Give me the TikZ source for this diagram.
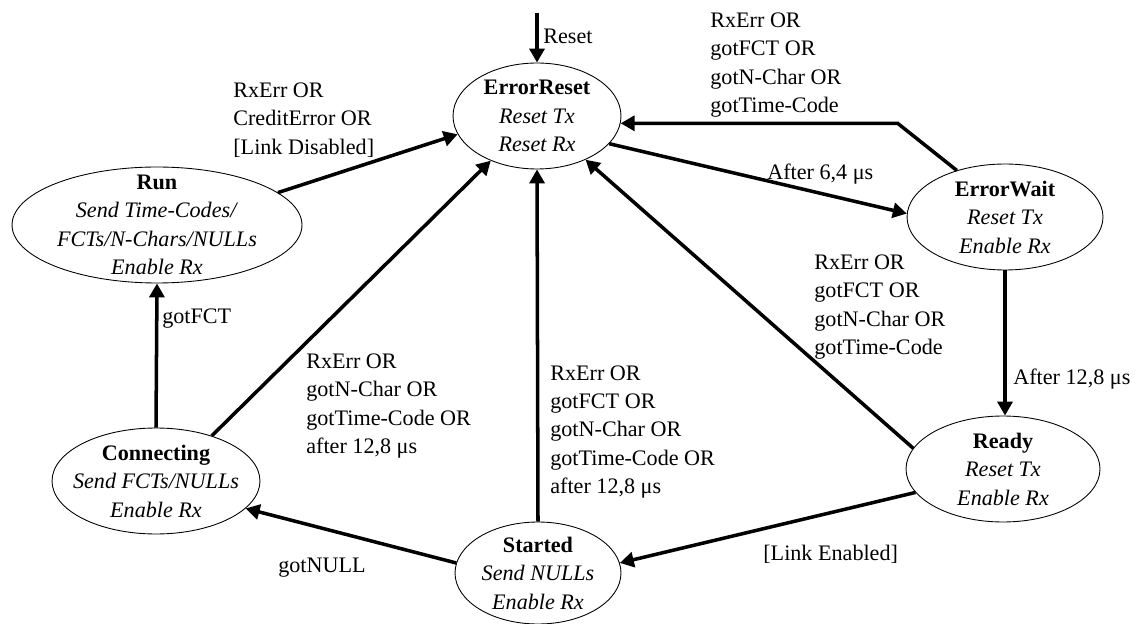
\documentclass[tikz,border=0pt]{standalone}
\usepackage{fontspec}
\setmainfont{Liberation Serif}
\usetikzlibrary{arrows.meta,shapes.geometric,calc}

\tikzset{
  state/.style={ellipse, draw, line width=0.5pt, inner sep=-1cm, align=center},
  trans/.style={line width=2pt, -{Triangle[length=0.28cm,width=0.3cm]}},
  cond/.style={anchor=west, align=left, inner sep=0pt},
}

\begin{document}
\begin{tikzpicture}[x=0.02cm, y=-0.02cm,
  every node/.append style={font=\fontsize{12.6}{16.2}\selectfont}]
			%%%%% START %%%%%
			\useasboundingbox (0,0) rectangle (1138,624);
			
			\node[state, minimum width=3.36cm, minimum height=2.12cm] (err) at (537,116) {\textbf{ErrorReset}\\\textit{Reset Tx}\\\textit{Reset Rx}};
			\node[state, minimum width=5.8cm, minimum height=2.32cm] (run) at (157,225) {\textbf{Run}\\\textit{Send Time-Codes/}\\\textit{FCTs/N-Chars/NULLs}\\\textit{Enable Rx}};
			\node[state, minimum width=3.92cm, minimum height=2.12cm] (ew) at (1005,217) {\textbf{ErrorWait}\\\textit{Reset Tx}\\\textit{Enable Rx}};
			\node[state, minimum width=3.88cm, minimum height=2.12cm] (ready) at (1003,469) {\textbf{Ready}\\\textit{Reset Tx}\\\textit{Enable Rx}};
			\node[state, minimum width=4.16cm, minimum height=2.12cm] (con) at (156,481) {\textbf{Connecting}\\\textit{Send FCTs/NULLs}\\\textit{Enable Rx}};
			\node[state, minimum width=3.32cm, minimum height=2.04cm] (st) at (538,573) {\textbf{Started}\\\textit{Send NULLs}\\\textit{Enable Rx}};
			
			\coordinate (rst) at (537,13);
			\coordinate (ewc) at ($(err.-5)+(277,0)$);
			
			\draw[trans] (rst) -- (err.north);
			\draw[trans] (run.15) -- (err.193);
			\draw[trans] (ew.136) -- (ewc) -- (err.-5);
			\draw[trans] (err.-21.5) -- (ew.178);
			\draw[trans] (ew.south) -- (ew.south |- ready.north);
			\draw[trans] (ready.167) -- (err.-42);
			\draw[trans] (ready.195) -- (st.7);
			\draw[trans] (st.north) -- (err.south);
			\draw[trans] (st.173) -- (con.-17);
			\draw[trans] (con.39) -- (err.224);
			\draw[trans] (con.north) -- (run.south);
			
			\node[cond] (lrst) at (543,36) {Reset};
			\node[cond] (lrun) at (233,120) {RxErr OR\\CreditError OR\\{[Link Disabled]}};
			\node[cond] (lew) at (710,65) {RxErr OR\\gotFCT OR\\gotN-Char OR\\gotTime-Code};
			\node[cond] (lsix) at (767,174) {After 6,4 μs};
			\node[cond] (ltwelve) at (1013,379) {After 12,8 μs};
			\node[cond] (lready) at (814,307) {RxErr OR\\gotFCT OR\\gotN-Char OR\\gotTime-Code};
			\node[cond] (lenab) at (763,554) {{[Link Enabled]}};
			\node[cond] (lst) at (550,432) {RxErr OR\\gotFCT OR\\gotN-Char OR\\gotTime-Code OR\\after 12,8 μs};
			\node[cond] (lnull) at (278,568) {gotNULL};
			\node[cond] (lcon) at (306,406) {RxErr OR\\gotN-Char OR\\gotTime-Code OR\\after 12,8 μs};
			\node[cond] (lfct) at (162,319) {gotFCT};
			
			%%%%% END %%%%%
\end{tikzpicture}
\end{document}
